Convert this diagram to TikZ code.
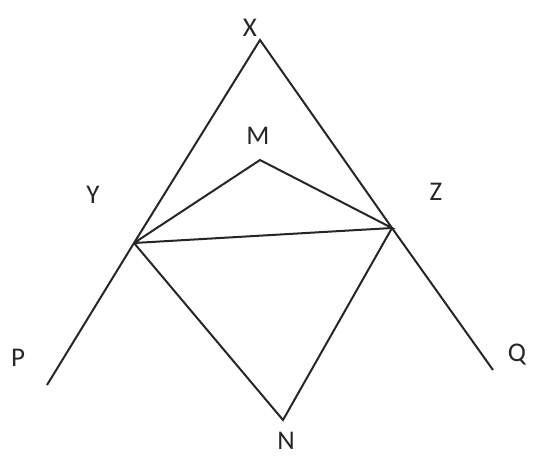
\documentclass[tikz,border=0pt]{standalone}
\usepackage{fontspec}
\setmainfont{Carlito}
\begin{document}
\begin{tikzpicture}[x=1pt,y=-1pt,
  seg/.style={line width=2pt,draw=black!85},
  lbl/.style={font=\fontsize{27}{27}\selectfont,text=black!85,inner sep=0pt}]
\useasboundingbox (0,0) rectangle (546,474);
\coordinate (x) at (260,40);
\coordinate (y) at (134,243);
\coordinate (z) at (392,228);
\coordinate (m) at (260,160);
\coordinate (n) at (283,420);
\coordinate (p) at (47,385);
\coordinate (q) at (493,370);
\draw[seg] (p) -- (y) -- (x) -- (z) -- (q);
\draw[seg] (y) -- (m) -- (z) -- (y);
\draw[seg] (y) -- (n) -- (z);
\node[lbl] (lx) at (250,28) {X};
\node[lbl] (lm) at (258,136) {M};
\node[lbl] (ly) at (93,195) {Y};
\node[lbl] (lz) at (436,192) {Z};
\node[lbl] (lp) at (18,358) {P};
\node[lbl] (lq) at (517,355) {Q};
\node[lbl] (ln) at (286,441) {N};
\end{tikzpicture}
\end{document}
